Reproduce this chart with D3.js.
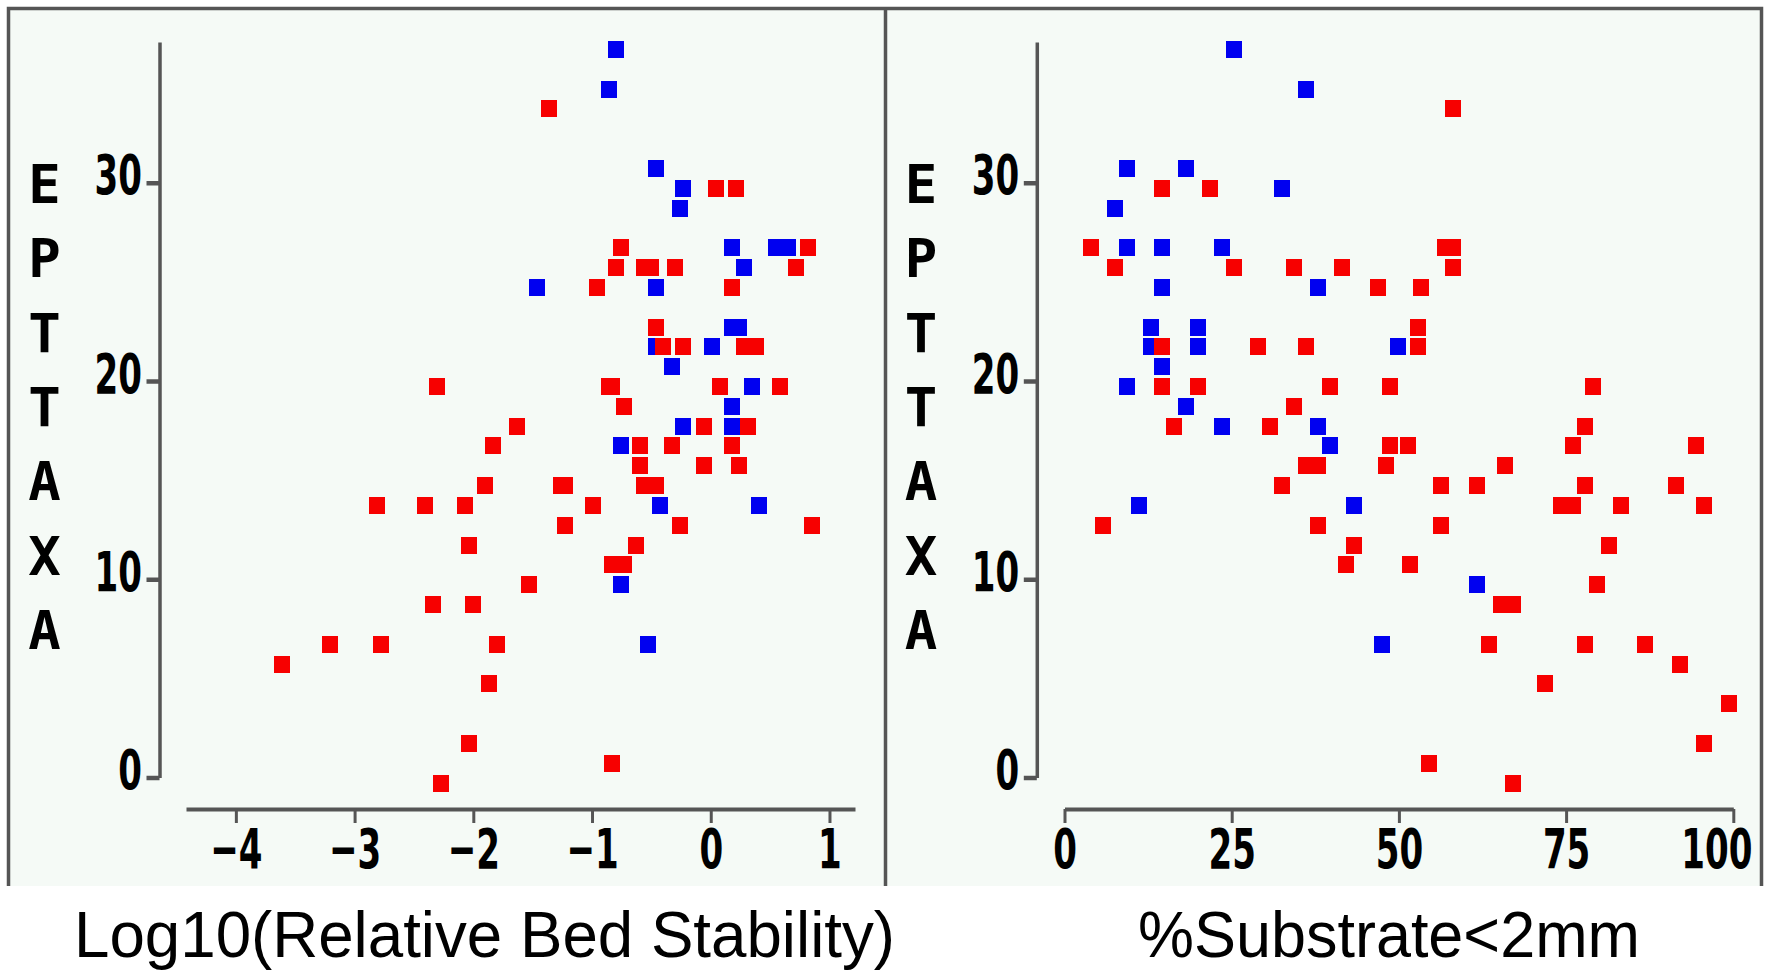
<!DOCTYPE html>
<html>
<head>
<meta charset="utf-8">
<script src="https://cdn.jsdelivr.net/npm/d3@7"></script>
<style>
  body { margin: 0; background: #fff; }
  svg { display: block; }
</style>
</head>
<body>
<script>
// EPT taxa (y) against log10 relative bed stability, split by colour group
var stabBlue = [[-0.80,37],[-0.86,35],[-0.46,31],[-0.23,30],[-0.26,29],[0.18,27],[0.55,27],[0.65,27],
  [0.28,26],[-1.46,25],[-0.46,25],[0.18,23],[0.24,23],[-0.46,22],[0.01,22],[-0.33,21],[0.35,20],
  [0.18,19],[-0.23,18],[0.18,18],[-0.76,17],[-0.43,14],[0.41,14],[-0.76,10],[-0.53,7]];
var stabRed = [[-1.36,34],[0.04,30],[0.21,30],[-0.76,27],[0.82,27],
  [-0.80,26],[-0.56,26],[-0.50,26],[-0.30,26],[0.72,26],[-0.96,25],[0.18,25],[-0.46,23],
  [-0.40,22],[-0.23,22],[0.28,22],[0.38,22],[-2.31,20],[-0.86,20],[-0.83,20],[0.08,20],[0.58,20],
  [-0.73,19],[-1.63,18],[-0.06,18],[0.31,18],[-1.83,17],[-0.60,17],[-0.33,17],[0.18,17],
  [-0.60,16],[-0.06,16],[0.24,16],[-1.90,15],[-1.26,15],[-1.23,15],[-0.56,15],[-0.46,15],
  [-2.81,14],[-2.41,14],[-2.07,14],[-0.99,14],[-1.23,13],[-0.26,13],[0.85,13],[-2.04,12],[-0.63,12],
  [-0.83,11],[-0.73,11],[-1.53,10],[-2.34,9],[-2.00,9],[-3.21,7],[-2.78,7],[-1.80,7],
  [-3.61,6],[-1.87,5],[-2.04,2],[-0.83,1],[-2.27,0]];

// EPT taxa against % substrate finer than 2 mm
var subBlue = [[25.3,37],[36.1,35],[9.3,31],[18.2,31],[32.5,30],[7.5,29],[9.3,27],[14.6,27],[23.5,27],
  [14.6,25],[37.9,25],[12.9,23],[20.0,23],[12.9,22],[20.0,22],[49.9,22],[14.6,21],[9.3,20],
  [18.2,19],[23.5,18],[37.9,18],[39.7,17],[11.1,14],[43.3,14],[61.7,10],[47.5,7]];
var subRed = [[58.1,34],[14.6,30],[21.8,30],[4.0,27],[56.9,27],[58.1,27],
  [7.5,26],[25.3,26],[34.3,26],[41.5,26],[58.1,26],[46.9,25],[53.3,25],[52.8,23],
  [14.6,22],[28.9,22],[36.1,22],[52.8,22],[14.6,20],[20.0,20],[39.7,20],[48.7,20],[79.0,20],
  [34.3,19],[16.4,18],[30.7,18],[77.8,18],[48.7,17],[51.4,17],[76.0,17],[94.4,17],
  [36.1,16],[37.9,16],[48.1,16],[65.9,16],[32.5,15],[56.3,15],[61.7,15],[77.8,15],[91.5,15],
  [74.2,14],[76.0,14],[83.2,14],[95.6,14],[5.8,13],[37.9,13],[56.3,13],[43.3,12],[81.4,12],
  [42.1,11],[51.6,11],[79.6,10],[65.3,9],[67.1,9],[63.5,7],[77.8,7],[86.8,7],
  [92.1,6],[71.9,5],[99.3,4],[95.6,2],[54.5,1],[67.1,0]];

var yTicks = [0, 10, 20, 30];
var stabTicks = [-4, -3, -2, -1, 0, 1];
var subTicks = [0, 25, 50, 75, 100];
var yLetters = ["E", "P", "T", "T", "A", "X", "A"];
var titles = ["Log10(Relative Bed Stability)", "%Substrate<2mm"];

var w = 1770, h = 971;
var red = "#f70000", blue = "#0000f0", grey = "#555";
var digitScale = 0.62;
var fmt = d3.format("d");

var svg = d3.select("body").append("svg")
    .attr("width", w)
    .attr("height", h);

// panel background and frame (no bottom edge)
svg.append("rect")
    .attr("x", 8).attr("y", 8)
    .attr("width", 1754).attr("height", 878)
    .attr("fill", "#f5faf6");
svg.append("path")
    .attr("d", "M8.5,886V8.5H1761.5V886M885.5,8.5V886")
    .attr("fill", "none")
    .attr("stroke", grey)
    .attr("stroke-width", 3.5);

var y = d3.scaleLinear().domain([0, 37.1]).range([777.5, 42]);

var panels = [
  {axisX: 159.5, letterX: 44.5, domain: [-4.42, 1.215], range: [186, 855], ticks: stabTicks,
   blue: stabBlue, red: stabRed, title: titles[0], titleX: 74, titleLen: 821},
  {axisX: 1036.8, letterX: 921, domain: [0, 100], range: [1064.5, 1733.3], ticks: subTicks,
   blue: subBlue, red: subRed, title: titles[1], titleX: 1138, titleLen: 502}
];

panels.forEach(function (p) {
  var x = d3.scaleLinear().domain(p.domain).range(p.range);

  // y axis
  var gy = svg.append("g")
      .attr("transform", "translate(" + p.axisX + ",0)")
      .call(d3.axisLeft(y).tickValues(yTicks).tickFormat(fmt).tickSize(13).tickSizeOuter(0));
  gy.select(".domain").attr("stroke", grey).attr("stroke-width", 3.5);
  gy.selectAll(".tick line").attr("stroke", grey).attr("stroke-width", 4.5);
  gy.selectAll(".tick text")
      .attr("x", 0).attr("dy", null).attr("y", 0)
      .attr("transform", "translate(-17.5,11) scale(" + digitScale + ",1)")
      .attr("text-anchor", "end");

  // x axis
  var gx = svg.append("g")
      .attr("transform", "translate(0,809)")
      .call(d3.axisBottom(x).tickValues(p.ticks).tickFormat(fmt).tickSize(14).tickSizeOuter(0));
  gx.select(".domain").attr("stroke", grey).attr("stroke-width", 4);
  gx.selectAll(".tick line").attr("stroke", grey).attr("stroke-width", 3);
  gx.selectAll(".tick text")
      .attr("x", 0).attr("dy", null).attr("y", 0)
      .attr("transform", "translate(0,59) scale(" + digitScale + ",1)")
      .attr("text-anchor", "middle");

  svg.selectAll(".tick text")
      .attr("fill", "#000")
      .style("font-family", "'DejaVu Sans'")
      .style("font-weight", "bold")
      .style("font-size", "55px");

  // keep end labels inside the frame
  gx.selectAll(".tick text").each(function (d) {
    var half = this.getBBox().width * digitScale / 2;
    var over = x(d) + half - 1752;
    if (over > 0) {
      d3.select(this).attr("transform",
        "translate(" + (-over) + ",59) scale(" + digitScale + ",1)");
    }
  });

  // vertical axis label, one letter per line
  svg.append("g").selectAll("text")
      .data(yLetters)
      .enter().append("text")
      .attr("x", p.letterX)
      .attr("y", function (d, i) { return 203 + i * 74.33; })
      .attr("text-anchor", "middle")
      .style("font-family", "'DejaVu Sans Mono'")
      .style("font-weight", "bold")
      .style("font-size", "54px")
      .text(function (d) { return d; });

  // points: blue first, red on top
  [[p.blue, blue], [p.red, red]].forEach(function (s) {
    svg.append("g").selectAll("rect")
        .data(s[0])
        .enter().append("rect")
        .attr("x", function (d) { return Math.round(x(d[0]) - 8); })
        .attr("y", function (d) { return Math.round(y(d[1]) - 3); })
        .attr("width", 16)
        .attr("height", 17)
        .attr("fill", s[1])
        .attr("shape-rendering", "crispEdges");
  });

  svg.append("text")
      .attr("x", p.titleX)
      .attr("y", 957)
      .attr("textLength", p.titleLen)
      .attr("lengthAdjust", "spacingAndGlyphs")
      .style("font-family", "'Liberation Sans', Arial, sans-serif")
      .style("font-size", "64px")
      .text(p.title);
});
</script>
</body>
</html>
